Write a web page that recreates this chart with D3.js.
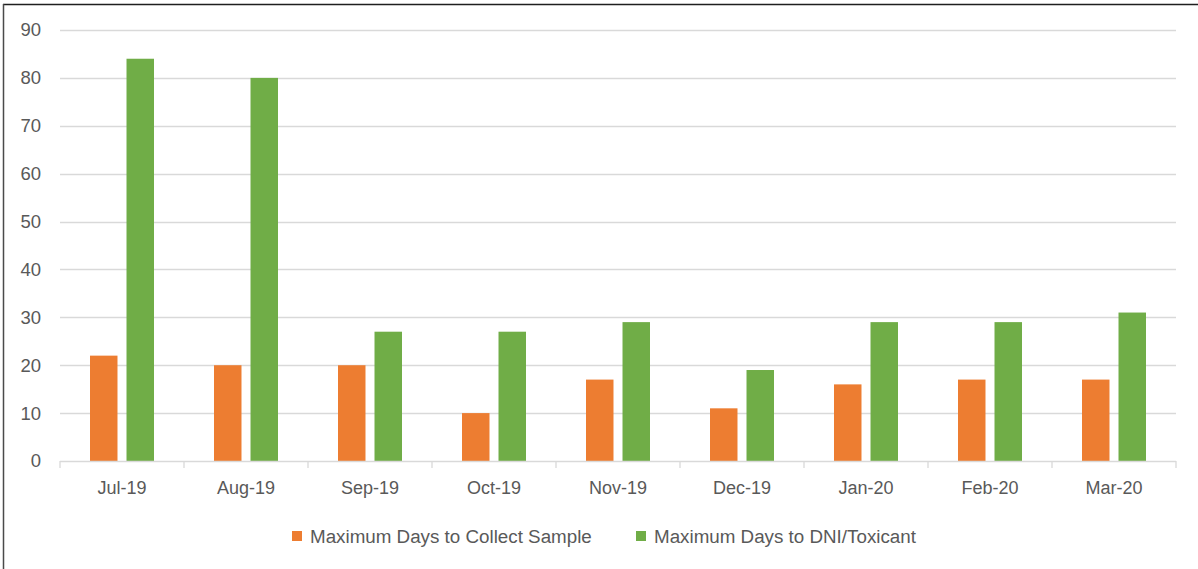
<!DOCTYPE html>
<html>
<head>
<meta charset="utf-8">
<script src="https://cdn.jsdelivr.net/npm/d3@7"></script>
<style>
  html, body { margin: 0; padding: 0; background: #fff; }
  svg { display: block; }
  text { font-family: "Liberation Sans", Arial, sans-serif; fill: #595959; }
</style>
</head>
<body>
<svg id="chart" width="1198" height="569"></svg>
<script>
// Monthly maximum turnaround days
const months = ["Jul-19", "Aug-19", "Sep-19", "Oct-19", "Nov-19", "Dec-19", "Jan-20", "Feb-20", "Mar-20"];
const collectSample = [22, 20, 20, 10, 17, 11, 16, 17, 17];
const dniToxicant = [84, 80, 27, 27, 29, 19, 29, 29, 31];
const seriesNames = ["Maximum Days to Collect Sample", "Maximum Days to DNI/Toxicant"];
const seriesColors = ["#ed7d31", "#70ad47"];
const yTicks = [0, 10, 20, 30, 40, 50, 60, 70, 80, 90];

const rows = months.map((m, i) => ({ month: m, values: [collectSample[i], dniToxicant[i]] }));

const svg = d3.select("#chart");
const W = 1198, H = 569;
const plot = { left: 60, right: 1176, top: 30, bottom: 461 };

// frame lines along the top and left edges
svg.append("line").attr("x1", 3).attr("x2", W).attr("y1", 4.5).attr("y2", 4.5)
  .attr("stroke", "#1f1f1f").attr("stroke-width", 1.5);
svg.append("line").attr("x1", 3.5).attr("x2", 3.5).attr("y1", 4).attr("y2", H)
  .attr("stroke", "#4a4a4a").attr("stroke-width", 1.5);

const y = d3.scaleLinear().domain([0, 90]).range([plot.bottom, plot.top]);
const x0 = d3.scaleBand().domain(months).range([plot.left, plot.right])
  .paddingInner(0.484).paddingOuter(0.242);
const x1 = d3.scaleBand().domain([0, 1]).range([0, x0.bandwidth()])
  .paddingInner(0.247).paddingOuter(0);

// horizontal gridlines
svg.append("g").selectAll("line").data(yTicks.filter(t => t > 0)).join("line")
  .attr("x1", plot.left).attr("x2", plot.right)
  .attr("y1", d => Math.round(y(d)) + 0.5).attr("y2", d => Math.round(y(d)) + 0.5)
  .attr("stroke", "#d9d9d9").attr("stroke-width", 1.3);

// y-axis labels
const yAxis = d3.axisLeft(y).tickValues(yTicks).tickSize(0).tickPadding(0);
const gy = svg.append("g").attr("transform", "translate(41,0)").call(yAxis);
gy.select(".domain").remove();
gy.selectAll("text").style("font-size", "18.5px").attr("fill", "#595959")
  .attr("font-family", "Liberation Sans, Arial, sans-serif");

// bars
const groups = svg.append("g").selectAll("g").data(rows).join("g")
  .attr("transform", d => `translate(${x0(d.month)},0)`);
groups.selectAll("rect").data(d => d.values.map((v, k) => ({ k, v }))).join("rect")
  .attr("x", d => x1(d.k))
  .attr("width", x1.bandwidth())
  .attr("y", d => y(d.v))
  .attr("height", d => y(0) - y(d.v))
  .attr("fill", d => seriesColors[d.k]);

// category axis with boundary ticks
const xAxisLine = svg.append("g");
xAxisLine.append("line").attr("x1", plot.left).attr("x2", plot.right)
  .attr("y1", plot.bottom + 0.5).attr("y2", plot.bottom + 0.5)
  .attr("stroke", "#d9d9d9").attr("stroke-width", 1.3);
const step = x0.step();
const boundaries = d3.range(months.length + 1).map(i => plot.left + i * step);
xAxisLine.selectAll("line.tick").data(boundaries).join("line").attr("class", "tick")
  .attr("x1", d => d).attr("x2", d => d)
  .attr("y1", plot.bottom).attr("y2", plot.bottom + 7)
  .attr("stroke", "#d9d9d9").attr("stroke-width", 1.3);

const xAxis = d3.axisBottom(x0).tickSize(0).tickPadding(0);
const gx = svg.append("g").attr("transform", `translate(0,${plot.bottom + 20})`).call(xAxis);
gx.select(".domain").remove();
gx.selectAll("text").style("font-size", "18px").attr("fill", "#595959")
  .attr("font-family", "Liberation Sans, Arial, sans-serif");

// legend
const legendX = [292, 636];
const legend = svg.append("g").selectAll("g").data(seriesNames).join("g")
  .attr("transform", (d, i) => `translate(${legendX[i]},531)`);
legend.append("rect").attr("width", 10).attr("height", 10)
  .attr("fill", (d, i) => seriesColors[i]);
legend.append("text").attr("x", 18).attr("y", 5).attr("dy", "0.35em")
  .style("font-size", "18.8px").text(d => d);
</script>
</body>
</html>
